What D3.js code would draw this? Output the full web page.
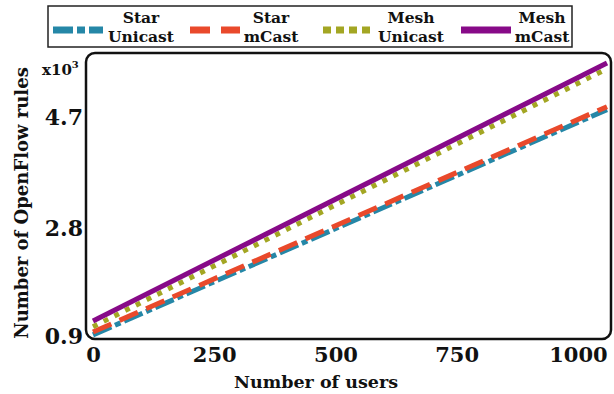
<!DOCTYPE html>
<html>
<head>
<meta charset="utf-8">
<script src="https://cdn.jsdelivr.net/npm/d3@7"></script>
<style>
  body { margin: 0; background: #fff; }
  text { font-family: 'DejaVu Serif', serif; font-weight: bold; fill: #111; }
</style>
</head>
<body>
<div id="chart"></div>
<script>
// data (values in thousands of rules)
const users = [0, 1060];
const xTicks = [0, 250, 500, 750, 1000];
const yTicks = [0.9, 2.8, 4.7];
const starUnicast = [0.97, 4.83];
const starMcast = [1.02, 4.88];
const meshUnicast = [1.11, 5.53];
const meshMcast = [1.21, 5.63];

const series = [
  { top: 'Star', bottom: 'Unicast', values: starUnicast, color: '#2587a7', dash: '20,4,6,4', legendDash: '20,4,8,4' },
  { top: 'Star', bottom: 'mCast', values: starMcast, color: '#e9492b', dash: '20,9', legendDash: '20,11' },
  { top: 'Mesh', bottom: 'Unicast', values: meshUnicast, color: '#a3a623', dash: '5,7', legendDash: '8,5' },
  { top: 'Mesh', bottom: 'mCast', values: meshMcast, color: '#870a88', dash: null, legendDash: null }
];

const W = 614, H = 394;
const frame = { left: 86, top: 53, right: 611, bottom: 339 };

const svg = d3.select('#chart').append('svg')
  .attr('width', W)
  .attr('height', H);

const x = d3.scaleLinear().domain([0, 1060]).range([93, 607]);
const y = d3.scaleLinear().domain([0.9, 5.8]).range([339, 53]);

svg.append('clipPath').attr('id', 'clip')
  .append('rect')
  .attr('x', frame.left).attr('y', frame.top)
  .attr('width', frame.right - frame.left).attr('height', frame.bottom - frame.top);

// lines
const line = d3.line()
  .x((d, i) => x(users[i]))
  .y(d => y(d));

const plot = svg.append('g').attr('clip-path', 'url(#clip)');
series.forEach(s => {
  plot.append('path')
    .datum(s.values)
    .attr('fill', 'none')
    .attr('stroke', s.color)
    .attr('stroke-width', 5)
    .attr('stroke-dasharray', s.dash)
    .attr('d', line);
});

// frame
svg.append('rect')
  .attr('x', frame.left).attr('y', frame.top)
  .attr('width', frame.right - frame.left).attr('height', frame.bottom - frame.top)
  .attr('rx', 9)
  .attr('fill', 'none')
  .attr('stroke', '#111')
  .attr('stroke-width', 2.5);

// axes
const yAxis = svg.append('g')
  .attr('transform', 'translate(' + frame.left + ',0)')
  .call(d3.axisLeft(y).tickValues(yTicks).tickSize(0).tickPadding(3).tickFormat(d3.format('.1f')));
yAxis.select('.domain').remove();
yAxis.selectAll('text')
  .style('font-size', '22px')
  .attr('dy', (d, i) => i === 0 ? '0.2em' : '0.35em');

const xAxis = svg.append('g')
  .attr('transform', 'translate(0,' + frame.bottom + ')')
  .call(d3.axisBottom(x).tickValues(xTicks).tickSize(0).tickPadding(8).tickFormat(d3.format('d')));
xAxis.select('.domain').remove();
xAxis.selectAll('text').style('font-size', '21px');

// axis titles
svg.append('text')
  .attr('x', 316)
  .attr('y', 388)
  .attr('text-anchor', 'middle')
  .style('font-size', '17.5px')
  .text('Number of users');

svg.append('text')
  .attr('transform', 'translate(28,203) rotate(-90)')
  .attr('text-anchor', 'middle')
  .style('font-size', '18px')
  .text('Number of OpenFlow rules');

const mult = svg.append('text')
  .attr('x', 42)
  .attr('y', 75)
  .style('font-size', '15px');
mult.append('tspan').text('x10');
mult.append('tspan').attr('dy', -7).style('font-size', '10px').text('3');

// legend
svg.append('rect')
  .attr('x', 48).attr('y', 6)
  .attr('width', 524).attr('height', 41)
  .attr('fill', '#fff')
  .attr('stroke', '#222')
  .attr('stroke-width', 1.5);

const legendX = [53, 190, 323, 461];
series.forEach((s, i) => {
  const g = svg.append('g').attr('transform', 'translate(' + legendX[i] + ',0)');
  g.append('line')
    .attr('x1', 0).attr('x2', 50)
    .attr('y1', 30).attr('y2', 30)
    .attr('stroke', s.color)
    .attr('stroke-width', 7)
    .attr('stroke-dasharray', s.legendDash);
  const cx = 50 + (s.bottom === 'Unicast' ? 38 : 31);
  g.append('text')
    .attr('text-anchor', 'middle')
    .attr('x', cx).attr('y', 23)
    .style('font-size', '15.5px')
    .text(s.top);
  g.append('text')
    .attr('text-anchor', 'middle')
    .attr('x', cx).attr('y', 41.5)
    .style('font-size', '15.5px')
    .text(s.bottom);
});
</script>
</body>
</html>
